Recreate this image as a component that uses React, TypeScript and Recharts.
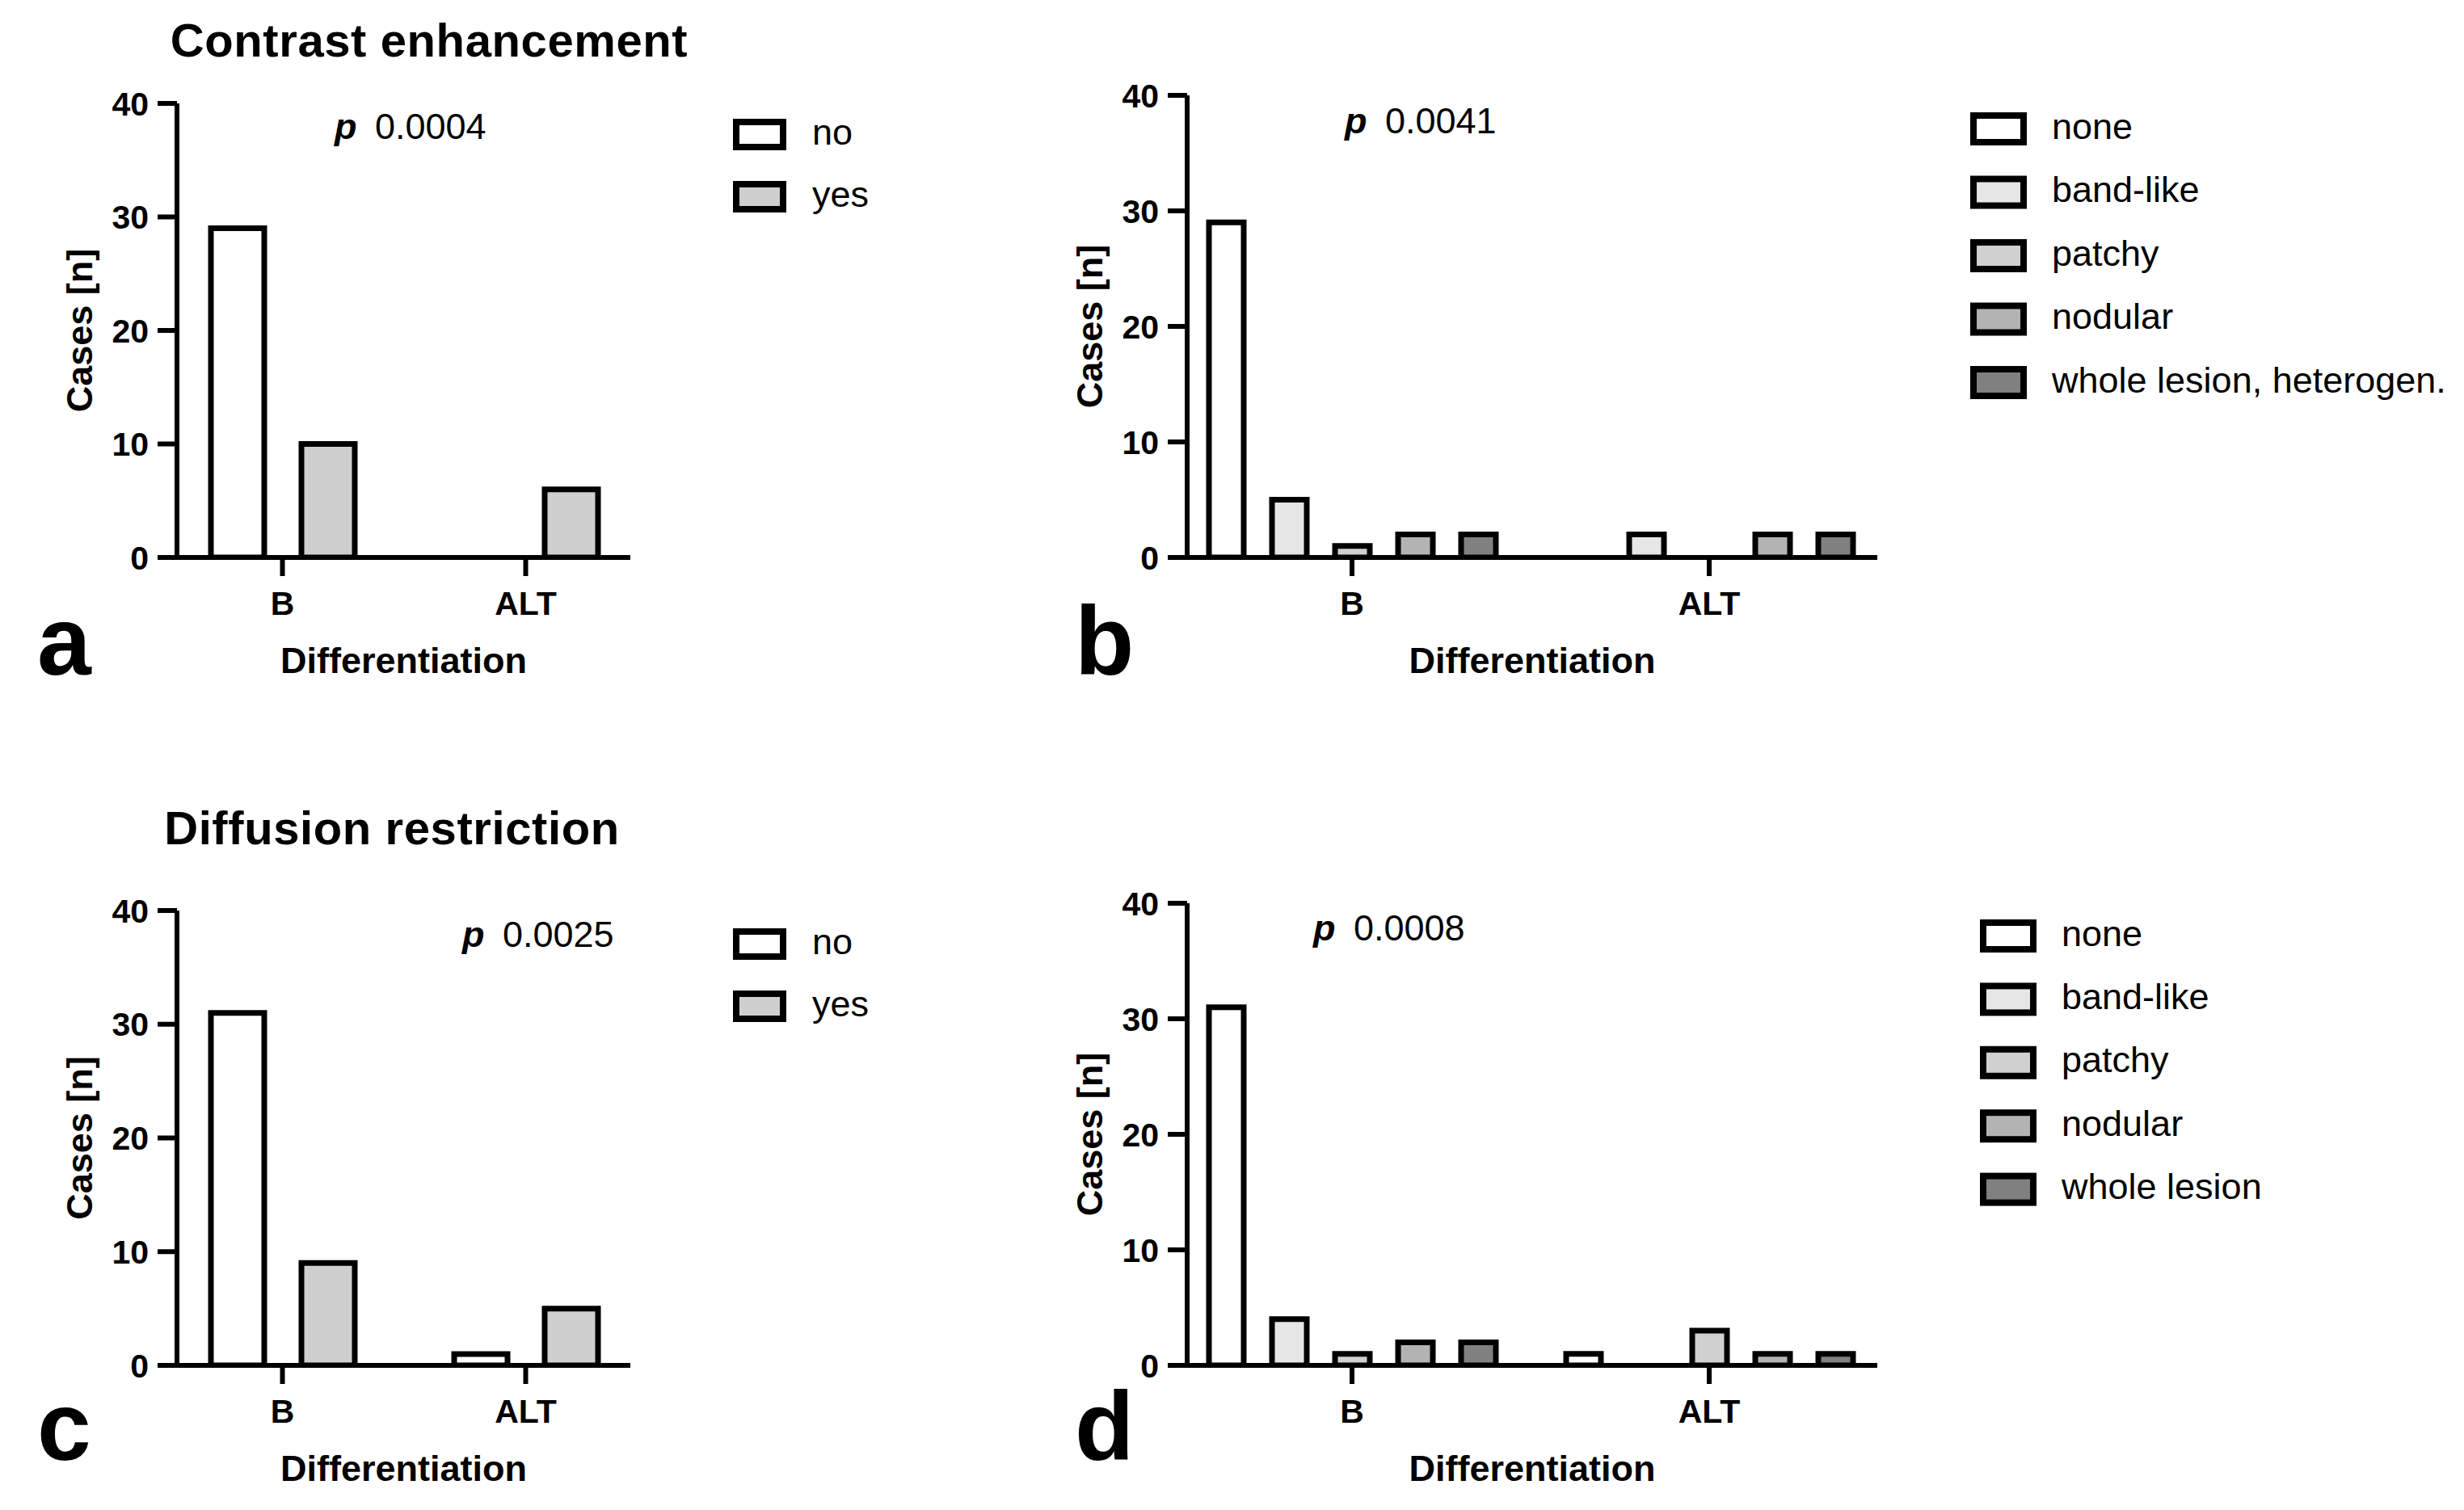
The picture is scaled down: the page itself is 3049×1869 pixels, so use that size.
import React from "react";
import { BarChart, Bar, XAxis, YAxis, Legend, Label } from "recharts";

const FONT = '"Liberation Sans", Arial, Helvetica, sans-serif';

// categories and axis
const groups = ["B", "ALT"];
const yTicks = [0, 10, 20, 30, 40];

// a / c: yes-no series
const binaryNames = ["no", "yes"];
const binaryFills = ["#ffffff", "#cfcfcf"];
const enhNo = [29, 0];
const enhYes = [10, 6];
const diffNo = [31, 1];
const diffYes = [9, 5];

// b / d: pattern series
const patternFills = ["#ffffff", "#e6e6e6", "#d0d0d0", "#b3b3b3", "#808080"];
const enhPatternNames = ["none", "band-like", "patchy", "nodular", "whole lesion, heterogen."];
const diffPatternNames = ["none", "band-like", "patchy", "nodular", "whole lesion"];
const enhNone = [29, 0];
const enhBand = [5, 2];
const enhPatchy = [1, 0];
const enhNodular = [2, 2];
const enhWhole = [2, 2];
const diffNone = [31, 1];
const diffBand = [4, 0];
const diffPatchy = [1, 3];
const diffNodular = [2, 1];
const diffWhole = [2, 1];

const pValues = ["0.0004", "0.0041", "0.0025", "0.0008"];

const toRows = (series: number[][]) =>
  groups.map((g, i) => {
    const row: any = { group: g };
    series.forEach((s, k) => {
      row[`s${k}`] = s[i];
    });
    return row;
  });

interface LegendCfg {
  left: number;
  top: number;
  boxW: number;
  boxH: number;
  pitch: number;
  textDx: number;
}

const legendContent = (names: string[], fills: string[], cfg: LegendCfg) => () => (
  <svg width={cfg.textDx + 560} height={cfg.pitch * names.length} style={{ overflow: "visible", display: "block" }}>
    {names.map((n, i) => {
      const cy = cfg.boxH / 2 + i * cfg.pitch;
      return (
        <g key={n}>
          <rect
            x={4}
            y={cy - cfg.boxH / 2 + 4}
            width={cfg.boxW - 8}
            height={cfg.boxH - 8}
            fill={fills[i]}
            stroke="#000"
            strokeWidth={8}
          />
          <text x={cfg.textDx} y={cy + 12} fontSize={45} fontFamily={FONT} fill="#000">
            {n}
          </text>
        </g>
      );
    })}
  </svg>
);

interface PanelProps {
  left: number;
  top: number;
  width: number;
  height: number;
  plot: { left: number; right: number; top: number; bottom: number };
  pad: { left: number; right: number };
  data: any[];
  names: string[];
  fills: string[];
  barSize: number;
  barGap: number;
  legend: LegendCfg;
}

function Panel({ left, top, width, height, plot, pad, data, names, fills, barSize, barGap, legend }: PanelProps) {
  const yAxisW = 160;
  const xAxisH = 150;
  const axisStyle = { stroke: "#000", strokeWidth: 6 };
  return (
    <div style={{ position: "absolute", left, top, width, height }}>
      <BarChart
        width={width}
        height={height}
        data={data}
        barSize={barSize}
        barGap={barGap}
        margin={{
          left: plot.left - yAxisW,
          right: width - plot.right,
          top: plot.top,
          bottom: height - plot.bottom - xAxisH,
        }}
      >
        <XAxis
          dataKey="group"
          height={xAxisH}
          padding={pad}
          axisLine={axisStyle}
          tickLine={axisStyle}
          tickSize={23}
          tickMargin={19}
          tick={{ fill: "#000", fontSize: 41, fontWeight: 700, fontFamily: FONT }}
        >
          <Label
            value="Differentiation"
            position="insideBottom"
            offset={7}
            fill="#000"
            fontSize={45}
            fontWeight={700}
            fontFamily={FONT}
          />
        </XAxis>
        <YAxis
          width={yAxisW}
          domain={[0, 40]}
          ticks={yTicks}
          interval={0}
          allowDataOverflow
          axisLine={axisStyle}
          tickLine={axisStyle}
          tickSize={24}
          tickMargin={11}
          tick={{ fill: "#000", fontSize: 41, fontWeight: 700, fontFamily: FONT }}
        >
          <Label
            value="Cases [n]"
            position="insideLeft"
            offset={39}
            angle={-90}
            fill="#000"
            fontSize={45}
            fontWeight={700}
            fontFamily={FONT}
            style={{ textAnchor: "middle" }}
          />
        </YAxis>
        <Legend
          layout="vertical"
          align="center"
          verticalAlign="middle"
          wrapperStyle={{ left: legend.left, top: legend.top }}
          content={legendContent(names, fills, legend)}
        />
        {names.map((n, k) => (
          <Bar
            key={n}
            dataKey={`s${k}`}
            name={n}
            fill={fills[k]}
            stroke="#000"
            strokeWidth={7}
            isAnimationActive={false}
          />
        ))}
      </BarChart>
    </div>
  );
}

const PText = ({ x, y, value }: { x: number; y: number; value: string }) => (
  <g>
    <text x={x} y={y} fontSize={45} fontWeight={700} fontStyle="italic" fontFamily={FONT} fill="#000">
      p
    </text>
    <text x={x + 50} y={y} fontSize={45} fontFamily={FONT} fill="#000">
      {value}
    </text>
  </g>
);

const Letter = ({ x, y, c }: { x: number; y: number; c: string }) => (
  <text x={x} y={y} fontSize={120} fontWeight={700} fontFamily={FONT} fill="#000">
    {c}
  </text>
);

export default function App() {
  const dataA = toRows([enhNo, enhYes]);
  const dataB = toRows([enhNone, enhBand, enhPatchy, enhNodular, enhWhole]);
  const dataC = toRows([diffNo, diffYes]);
  const dataD = toRows([diffNone, diffBand, diffPatchy, diffNodular, diffWhole]);

  return (
    <div
      style={{
        position: "absolute",
        left: 0,
        top: 0,
        width: 3049,
        height: 1869,
        background: "#fff",
        fontFamily: FONT,
        overflow: "hidden",
      }}
    >
      <Panel
        left={0}
        top={0}
        width={1100}
        height={900}
        plot={{ left: 219, right: 780, top: 128, bottom: 690 }}
        pad={{ left: -20, right: -21 }}
        data={dataA}
        names={binaryNames}
        fills={binaryFills}
        barSize={66}
        barGap={46}
        legend={{ left: 907, top: 147, boxW: 66, boxH: 39, pitch: 77, textDx: 98 }}
      />
      <Panel
        left={1250}
        top={0}
        width={1799}
        height={900}
        plot={{ left: 219, right: 1073, top: 118, bottom: 690 }}
        pad={{ left: -17, right: -13 }}
        data={dataB}
        names={enhPatternNames}
        fills={patternFills}
        barSize={43}
        barGap={35}
        legend={{ left: 1188, top: 139, boxW: 70, boxH: 41, pitch: 78.5, textDx: 101 }}
      />
      <Panel
        left={0}
        top={940}
        width={1100}
        height={929}
        plot={{ left: 219, right: 780, top: 187, bottom: 750 }}
        pad={{ left: -20, right: -21 }}
        data={dataC}
        names={binaryNames}
        fills={binaryFills}
        barSize={66}
        barGap={46}
        legend={{ left: 907, top: 209, boxW: 66, boxH: 39, pitch: 77, textDx: 98 }}
      />
      <Panel
        left={1250}
        top={940}
        width={1799}
        height={929}
        plot={{ left: 219, right: 1073, top: 178, bottom: 750 }}
        pad={{ left: -17, right: -13 }}
        data={dataD}
        names={diffPatternNames}
        fills={patternFills}
        barSize={43}
        barGap={35}
        legend={{ left: 1200, top: 198, boxW: 70, boxH: 41, pitch: 78.4, textDx: 101 }}
      />
      <svg
        width={3049}
        height={1869}
        style={{ position: "absolute", left: 0, top: 0, pointerEvents: "none" }}
      >
        <text x={531} y={70} textAnchor="middle" fontSize={58} fontWeight={700} letterSpacing={0.6} fontFamily={FONT} fill="#000">
          Contrast enhancement
        </text>
        <text x={485} y={1045} textAnchor="middle" fontSize={58} fontWeight={700} letterSpacing={0.6} fontFamily={FONT} fill="#000">
          Diffusion restriction
        </text>
        <PText x={414} y={172} value={pValues[0]} />
        <PText x={1664} y={165} value={pValues[1]} />
        <PText x={572} y={1172} value={pValues[2]} />
        <PText x={1625} y={1164} value={pValues[3]} />
        <Letter x={46} y={835} c="a" />
        <Letter x={1330} y={835} c="b" />
        <Letter x={46} y={1807} c="c" />
        <Letter x={1330} y={1807} c="d" />
      </svg>
    </div>
  );
}
